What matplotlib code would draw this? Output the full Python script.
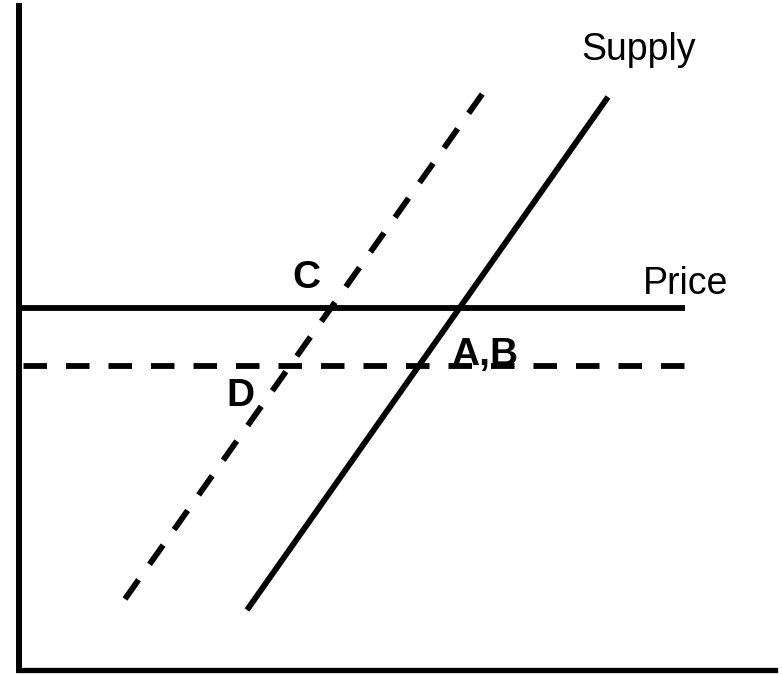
"""
Supply shift diagram: original and shifted supply, two price levels
"""

import matplotlib.pyplot as plt

# Data in pixel-like units measured from the axis origin
supply_q = [228, 589]
supply_p = [60, 573]
shifted_supply_q = [106, 464]
shifted_supply_p = [71, 577]

price_q = [0, 666]
price_level = 362
lower_price_level = 304

labels = ['Supply', 'Price', 'C', 'A,B', 'D']
label_q = [620, 667, 287, 466, 221]
label_p = [620, 386, 392, 315, 274]
label_bold = [False, False, True, True, True]

W, H = 782, 675
fig = plt.figure(figsize=(W / 100, H / 100), dpi=100)
plt.rcParams['font.family'] = ['Liberation Sans', 'DejaVu Sans']

# axes box: left spine at x=19 px, bottom spine at y=670 px
ax = fig.add_axes([19 / W, 5 / H, 756 / W, 664 / H])
ax.set_xlim(0, 756)
ax.set_ylim(0, 664)
ax.set_xticks([])
ax.set_yticks([])
for side in ('top', 'right'):
    ax.spines[side].set_visible(False)
ax.spines['left'].set_linewidth(4.3)
ax.spines['bottom'].set_linewidth(3.8)

lw = 4.2
px = 100 / 72  # pixels per point
on, off = 23.5 / (lw * px), 19 / (lw * px)
dashed = (0, (on, off))
dashed_h = (on + off - 4.5 / (lw * px), (on, off))

ax.plot(supply_q, supply_p, color='black', lw=lw, solid_capstyle='butt')
ax.plot(shifted_supply_q, shifted_supply_p, color='black', lw=lw, linestyle=dashed)
ax.plot(price_q, [price_level] * 2, color='black', lw=lw, solid_capstyle='butt')
ax.plot(price_q, [lower_price_level] * 2, color='black', lw=lw, linestyle=dashed_h)

for text, q, p, bold in zip(labels, label_q, label_p, label_bold):
    ax.text(q, p, text, ha='center', va='center',
            fontsize=28 if bold else 27,
            fontweight='bold' if bold else 'normal')

fig.savefig('out.png', dpi=100)
plt.close(fig)
